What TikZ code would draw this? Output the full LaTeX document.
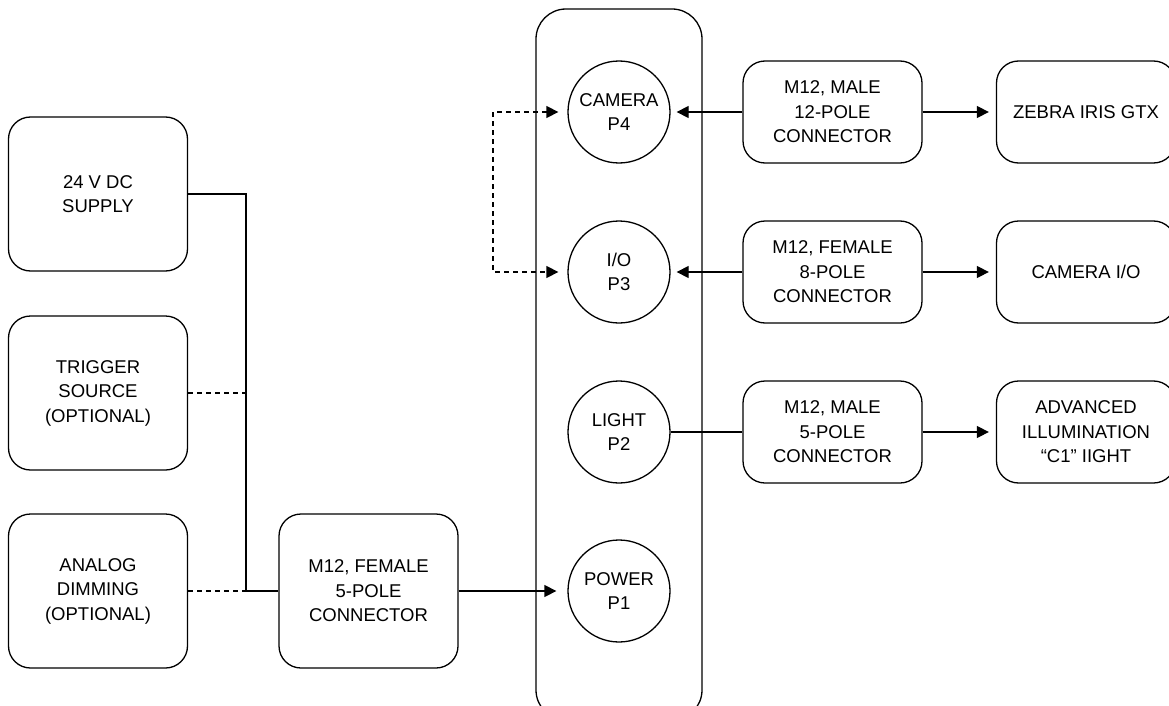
\documentclass[tikz,border=0pt]{standalone}
\usepackage{fontspec}
\setmainfont{Liberation Sans}
\usetikzlibrary{arrows.meta}

\tikzset{
    block/.style={draw, line width=1.3pt, rounded corners=22pt, align=center,
        minimum width=179pt, minimum height=154pt, inner sep=0pt},
    plug/.style={block, minimum height=102pt},
    port/.style={draw, line width=1.3pt, circle, minimum size=102pt, align=center, inner sep=0pt},
    wire/.style={line width=1.3pt},
    optional/.style={wire, dash pattern=on 5pt off 4pt},
    feed/.style={wire, -{Triangle[length=12pt,width=12pt]}},
}

\begin{document}
\begin{tikzpicture}[x=1pt, y=-1pt, font=\fontsize{18.5}{24.5}\selectfont]
        \useasboundingbox (0,0) rectangle (1169,706);

        \node[block] (supply) at (98,194) {24 V DC\\SUPPLY};
        \node[block] (trigger) at (98,393) {TRIGGER\\SOURCE\\(OPTIONAL)};
        \node[block] (dimming) at (98,591) {ANALOG\\DIMMING\\(OPTIONAL)};
        \node[block] (female5) at (368.5,591) {M12, FEMALE\\5-POLE\\CONNECTOR};

        \draw[wire, rounded corners=30pt] (536,9) rectangle (702,720);
        \node[port] (camera) at (619,112) {CAMERA\\P4};
        \node[port] (io) at (619,272) {I/O\\P3};
        \node[port] (light) at (619,432) {LIGHT\\P2};
        \node[port] (power) at (619,591) {POWER\\P1};

        \node[plug] (male12) at (832.5,112) {M12, MALE\\12-POLE\\CONNECTOR};
        \node[plug] (female8) at (832.5,272) {M12, FEMALE\\8-POLE\\CONNECTOR};
        \node[plug] (male5) at (832.5,432) {M12, MALE\\5-POLE\\CONNECTOR};
        \node[plug] (zebra) at (1086,112) {ZEBRA IRIS GTX};
        \node[plug] (camio) at (1086,272) {CAMERA I/O};
        \node[plug] (illum) at (1086,432) {ADVANCED\\ILLUMINATION\\“C1” IIGHT};

        \coordinate (bus) at (246,591);
        \coordinate (loop) at (493,112);

        \draw[wire] (supply.east) -| (bus) -- (female5.west);
        \draw[optional] (trigger.east) -- (trigger.east -| bus);
        \draw[optional] (dimming.east) -- (bus);
        \draw[feed, shorten >=11pt] (female5.east) -- (power.west);

        \draw[feed, shorten >=6pt] (male12.west) -- (camera.east);
        \draw[feed, shorten >=7pt] (male12.east) -- (zebra.west);
        \draw[feed, shorten >=6pt] (female8.west) -- (io.east);
        \draw[feed, shorten >=7pt] (female8.east) -- (camio.west);
        \draw[wire] (light.east) -- (male5.west);
        \draw[feed, shorten >=7pt] (male5.east) -- (illum.west);

        \draw[optional, {Triangle[length=12pt,width=12pt]}-{Triangle[length=12pt,width=12pt]},
            shorten <=9pt, shorten >=9pt] (camera.west) -- (loop) |- (io.west);
\end{tikzpicture}
\end{document}
